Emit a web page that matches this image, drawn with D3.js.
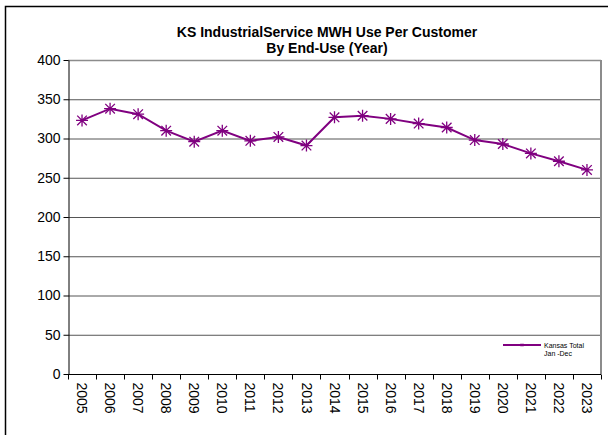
<!DOCTYPE html>
<html>
<head>
<meta charset="utf-8">
<script src="https://cdnjs.cloudflare.com/ajax/libs/d3/7.8.5/d3.min.js"></script>
<style>
  body { margin: 0; background: #fff; }
  svg { display: block; font-family: "Liberation Sans", Arial, sans-serif; }
</style>
</head>
<body>
<svg id="chart" width="608" height="435"></svg>
<script>
// 年份与每户用电量 (MWH)
const years = ['2005','2006','2007','2008','2009','2010','2011','2012','2013','2014',
               '2015','2016','2017','2018','2019','2020','2021','2022','2023'];
const mwhPerCustomer = [323, 338, 331, 310, 296, 310, 297, 302, 291, 327,
                        329, 325, 319, 314, 298, 293, 281, 271, 260];
const yTicks = [0, 50, 100, 150, 200, 250, 300, 350, 400];
const titleLines = ['KS IndustrialService MWH Use Per Customer', 'By End-Use (Year)'];
const legendLines = ['Kansas Total', 'Jan -Dec'];

const svg = d3.select('#chart');
const plot = { left: 68, top: 60, right: 601, bottom: 374 };
const lineColor = '#800080';

// 外框
svg.append('rect')
    .attr('x', 5.5).attr('y', 6.5)
    .attr('width', 620).attr('height', 450)
    .attr('fill', 'none')
    .attr('stroke', '#000')
    .attr('stroke-width', 1.5);

// 标题
svg.append('text')
    .attr('x', 327).attr('y', 37)
    .attr('text-anchor', 'middle')
    .attr('font-size', 14).attr('font-weight', 'bold')
    .selectAll('tspan')
    .data(titleLines)
    .enter().append('tspan')
    .attr('x', 327)
    .attr('dy', (d, i) => i === 0 ? 0 : 16)
    .text(d => d);

const x = d3.scaleBand().domain(years).range([plot.left, plot.right]);
const y = d3.scaleLinear().domain([0, 400]).range([plot.bottom, plot.top]);

// 网格线
svg.append('g')
    .selectAll('line')
    .data(yTicks.filter(d => d > 0))
    .enter().append('line')
    .attr('x1', plot.left).attr('x2', plot.right)
    .attr('y1', d => y(d) + 0.5).attr('y2', d => y(d) + 0.5)
    .attr('stroke', d => d === 400 ? '#8c8c8c' : '#555')
    .attr('stroke-width', d => d === 400 ? 1.5 : 1);

// 右边框
svg.append('line')
    .attr('x1', plot.right).attr('x2', plot.right)
    .attr('y1', plot.top).attr('y2', plot.bottom)
    .attr('stroke', '#8c8c8c').attr('stroke-width', 2);

// Y 轴
const yAxis = svg.append('g')
    .attr('transform', `translate(${plot.left + 0.5},0)`)
    .call(d3.axisLeft(y).tickValues(yTicks).tickSize(5).tickSizeOuter(0));
yAxis.select('.domain').attr('stroke', '#000');
yAxis.selectAll('.tick line').attr('stroke', '#000');
yAxis.selectAll('.tick text')
    .attr('font-size', 14)
    .attr('font-family', '"Liberation Sans", Arial, sans-serif')
    .attr('fill', '#000')
    .attr('x', -8);

// X 轴
const xAxis = svg.append('g')
    .attr('transform', `translate(0,${plot.bottom + 0.5})`)
    .call(d3.axisBottom(x).tickSize(0));
xAxis.select('.domain').attr('stroke', '#000').attr('d', `M${plot.left},0H${plot.right}`);
xAxis.selectAll('.tick text')
    .attr('font-size', 14)
    .attr('font-family', '"Liberation Sans", Arial, sans-serif')
    .attr('fill', '#000')
    .attr('transform', 'rotate(90)')
    .attr('text-anchor', 'start')
    .attr('x', 8).attr('y', 0).attr('dy', '0.35em');
// 类别之间的刻度
xAxis.append('g')
    .selectAll('line')
    .data(d3.range(years.length + 1))
    .enter().append('line')
    .attr('x1', i => Math.round(plot.left + i * x.step()) + 0.5)
    .attr('x2', i => Math.round(plot.left + i * x.step()) + 0.5)
    .attr('y1', 0).attr('y2', 5)
    .attr('stroke', '#000');

// 折线
const cx = d => x(d) + x.bandwidth() / 2;
const line = d3.line()
    .x((d, i) => cx(years[i]))
    .y(d => y(d));
svg.append('path')
    .datum(mwhPerCustomer)
    .attr('d', line)
    .attr('fill', 'none')
    .attr('stroke', lineColor)
    .attr('stroke-width', 2);

// 星形标记
const starPath = r => {
    const s = r * 0.8;
    return `M${-r},0H${r}M0,${-r}V${r}M${-s},${-s}L${s},${s}M${-s},${s}L${s},${-s}`;
};
svg.append('g')
    .selectAll('path')
    .data(mwhPerCustomer)
    .enter().append('path')
    .attr('transform', (d, i) => `translate(${cx(years[i])},${y(d)})`)
    .attr('d', starPath(6))
    .attr('fill', 'none')
    .attr('stroke', lineColor)
    .attr('stroke-width', 1.3);

// 图例
const lg = svg.append('g').attr('transform', 'translate(503,345)');
lg.append('line')
    .attr('x1', 0).attr('x2', 38).attr('y1', 0).attr('y2', 0)
    .attr('stroke', lineColor).attr('stroke-width', 2);
lg.append('path')
    .attr('transform', 'translate(19,0)')
    .attr('d', starPath(1.5))
    .attr('stroke', lineColor).attr('stroke-width', 1);
lg.append('text')
    .attr('x', 41).attr('y', 2.5)
    .attr('font-size', 7)
    .attr('fill', '#000')
    .selectAll('tspan')
    .data(legendLines)
    .enter().append('tspan')
    .attr('x', 41)
    .attr('dy', (d, i) => i === 0 ? 0 : 8)
    .text(d => d);
</script>
</body>
</html>
